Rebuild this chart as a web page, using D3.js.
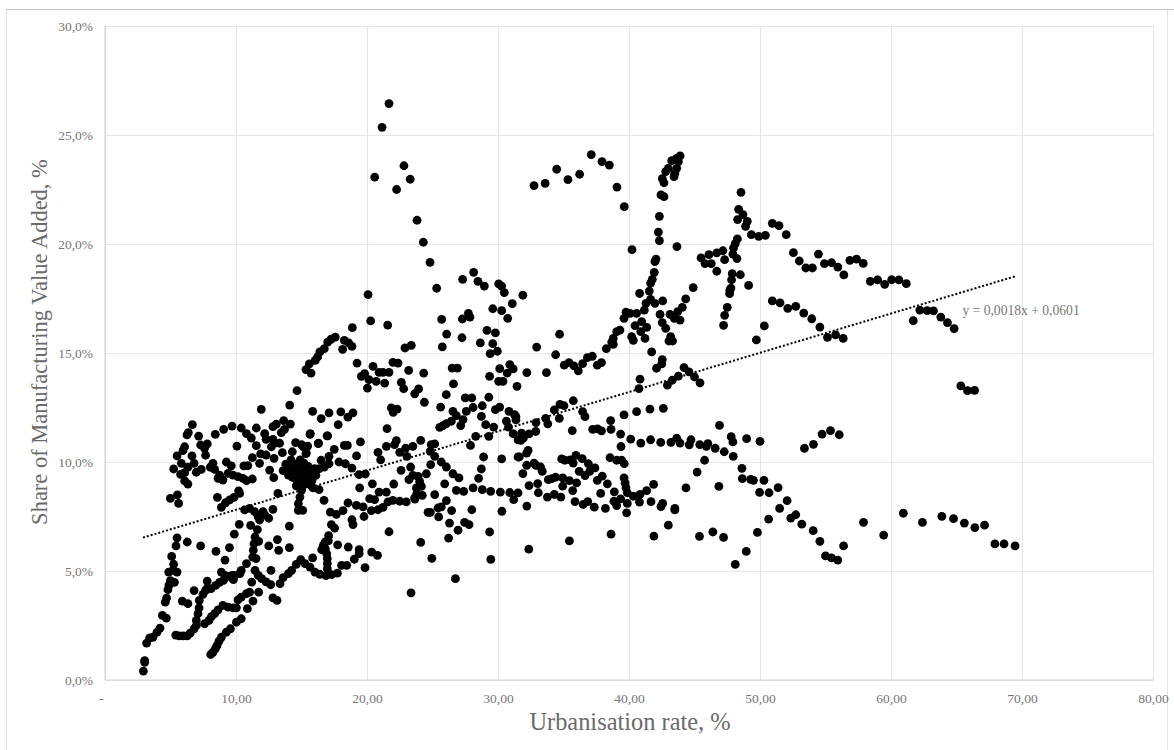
<!DOCTYPE html>
<html>
<head>
<meta charset="utf-8">
<script src="https://cdnjs.cloudflare.com/ajax/libs/d3/7.8.5/d3.min.js"></script>
<style>
  html, body { margin: 0; padding: 0; background: #fff; }
  svg { display: block; }
  text { font-family: "Liberation Serif", serif; }
</style>
</head>
<body>
<svg id="chart" width="1174" height="750"></svg>
<script>
// values: [urbanisation rate %, manufacturing share %]
const veryLowChains = [
  [2.93,0.41],[3.03,0.81],[3.03,0.89],[3.18,1.69],[3.41,1.93],[3.66,1.96],[3.97,2.19],[4.2,2.38],[4.38,2.96],[4.68,2.84],
  [4.6,3.57],[4.7,3.76],[4.8,4.14],[4.88,4.34],[4.99,4.56],[5.3,4.48],[4.86,4.95],[5.5,4.95],[5.2,5.03],[5.24,5.31],
  [5.09,5.67],[5.42,6.15],[5.5,6.52],[6.28,6.33],[7.3,6.15],
  [5.4,2.06],[5.66,2.02],[5.97,2.02],[6.28,2.02],[6.5,2.15],[6.8,2.35],[6.97,2.5],[6.97,2.73],[7.1,3.04],[7.18,3.31],
  [7.2,3.65],[7.48,3.93],[7.68,4.11],[7.8,4.19],[8.1,4.19],[8.45,4.34],[8.75,4.48],[9.05,4.57],[9.4,4.75],[9.7,4.8],
  [9.9,4.8],[9.8,4.6],[10.3,4.88],[10.4,5.03],[10.8,5.34],
  [5.9,3.62],[6.33,3.5],[6.8,4.1],[7.8,4.54],[8.47,5.9],[9.16,5.5],[9.5,6.07],[9.87,6.69],[8.88,4.95],[9.14,4.8],
  [8.07,1.17],[8.24,1.27],[8.42,1.43],[8.55,1.58],[8.7,1.78],[8.88,1.96],[9.26,2.19],[9.57,2.35],[10.03,2.65],[10.4,2.81],
  [7.6,2.58],[7.94,2.73],[8.12,2.91],[8.37,3.04],[8.63,3.22],[9.0,3.42],[9.4,3.34],[9.77,3.31],[10.03,3.31],[10.87,3.27],
  [10.15,3.68],[10.4,3.8],[10.8,3.96],[11.04,4.03],[11.3,3.62],[11.73,4.03],[11.2,4.49],[12.82,3.77],[13.13,3.65]
];
const lowArc = [
  [11.45,5.03],[11.7,4.8],[11.96,4.65],[12.3,4.5],[12.65,4.37],[13.36,4.42],[13.6,4.7],[14.0,4.88],[14.25,5.03],[14.6,5.3],
  [14.94,5.52],[15.27,5.34],[15.65,5.18],[16.03,4.95],[16.4,4.85],[16.87,4.79],[17.3,4.83],[17.74,4.9],[18.06,5.26],[18.45,5.26],
  [19.03,5.54],[19.4,5.8],[19.4,5.98],[19.85,5.15],[12.67,5.03],
  [16.97,5.1],[16.97,5.34],[16.97,5.57],[16.92,5.8],[16.82,6.02],[16.54,5.98],[16.67,6.18],[16.8,6.33],[17.05,6.38],[17.07,6.62],
  [15.85,5.6],[17.76,6.2],[18.57,6.1],[20.36,5.87],[20.8,5.72],
  [11.63,6.9],[11.45,6.56],[11.37,6.25],[11.32,5.95],[11.27,5.64],[11.53,5.57],[11.12,7.09],[11.73,6.36],[10.25,7.14],
  [13.16,6.44],[12.5,6.15],[13.26,5.95],[14.07,6.07],[14.07,7.06],[15,8.7],[14.88,8.39],[14.76,8.09],[14.76,7.78],[15.09,7.78],
  [23.36,4.0],[26.75,4.65],[24.95,5.58],[29.45,5.53],[32.35,6.0]
];
const westCluster = [
  [6.67,11.71],[6.36,11.35],[6.26,11.24],[7.15,11.19],[8.42,11.27],[9.06,11.5],[9.7,11.65],[10.4,11.56],[10.8,11.3],[11.17,11.1],
  [11.55,11.56],[11.93,12.41],[12.19,11.3],[12.3,11.04],[12.82,11.62],[13.08,11.74],[13.64,11.9],[14.15,11.74],[14.66,13.27],[14.1,12.61],
  [13.46,11.35],[13.7,11.5],[12.82,11.04],[13.33,10.86],[12.95,10.86],[12.7,10.7],[14.55,10.89],[6.08,10.7],[5.95,10.52],[5.5,10.28],
  [5.83,9.94],[5.24,9.68],[5.77,9.43],[6.08,9.51],[6.33,9.76],[6.8,9.94],[6.64,10.28],[7.3,10.78],[7.81,10.83],[7.6,10.63],
  [7.68,10.31],[8.24,9.94],[8.04,9.76],[8.37,9.66],[7.35,9.66],[6.97,9.53],[6.08,9.13],[6.33,8.99],[8.75,9.4],[8.63,9.25],
  [9.0,9.17],[9.26,10.0],[9.64,9.82],[9.4,9.48],[9.77,9.4],[10.15,9.33],[10.53,9.25],[10.8,9.14],[11.25,9.22],[10.07,10.73],
  [10.6,9.82],[10.9,9.83],[11.25,10.2],[11.8,9.94],[11.88,10.37],[12.3,10.32],[12.9,10.17],[13.54,10.43],[14.3,10.47],[12.57,9.63],
  [12.88,9.28],[13.2,8.56],[11.55,10.75],[4.99,8.33],[5.53,8.49],[5.62,8.1],[8.58,8.38],[8.88,7.92],[9.2,8.13],[9.52,8.26],
  [9.85,8.38],[10.2,8.68],[10.28,8.56],[10.66,7.8],[11.04,7.87],[11.42,7.72],[11.68,7.49],[12.06,7.72],[12.19,7.57],[12.5,7.42],
  [11.8,7.34],[12.82,7.83]
];
const denseCore = [
  [13.6,9.6],[13.8,9.9],[14,9.4],[14.1,9.7],[14.2,10.1],[14.3,9.3],[14.4,9.6],[14.5,9.9],[14.6,9.2],[14.7,9.5],
  [14.8,9.8],[14.9,10.1],[15,9.1],[15,9.4],[15.1,9.7],[15.2,9.95],[15.3,9.2],[15.4,9.55],[15.5,9.8],[15.6,9.35],
  [15.7,9.6],[15.8,9.15],[15.9,9.45],[16,9.7],[14.6,8.9],[15.05,8.95],[15.35,9],[14.9,9.3],[16.1,9.39],[16.36,9.7],
  [16.74,9.77],[17.1,9.92],[16.3,10.87],[15,10.8],[15.37,10.41],[15.67,11.3],[16.95,11.2]
];
const risingArc = [
  [17.58,15.73],[17.25,15.63],[17.0,15.5],[16.74,15.2],[16.4,15.05],[16.23,14.82],[16.05,14.66],[15.6,14.5],[15.34,14.24],[15.73,14.08],
  [18.27,15.58],[18.6,15.46],[18.85,15.3],[18.14,15.17],[18.88,16.16],[20.28,16.47],[21.58,16.28],[22.9,15.23],[23.38,15.35],
  [15.85,12.32],[16.5,11.99],[17.1,12.25],[18.0,12.3],[18.93,12.25],[18.54,12.06],[17.8,11.71],[15.65,11.27],[17.0,11.2],[16.28,10.84],
  [15.14,10.69],[15.47,10.73],[15.34,10.38],[17.5,10.58],[18.27,10.76],[18.5,10.76],[19.5,10.92],[17.1,10.26],[16.5,10.08],[19.2,10.28],
  [17.86,10.0],[18.85,9.72],[18.35,9.92],[19.39,9.42],[19.87,9.45]
];
const middleUpper = [
  [19.24,14.54],[19.57,13.93],[19.82,14.05],[20.03,13.39],[20.15,13.78],[20.46,14.39],[20.7,13.7],[20.92,14.11],[21.35,13.62],[21.22,14.11],
  [21.68,14.11],[21.98,14.57],[22.37,14.54],[23.18,14.2],[22.62,13.65],[22.8,13.36],[23.64,13.13],[23.94,13.35],[24.33,14.08],[24.38,12.74],
  [25.75,15.28],[26.08,15.87],[27.25,15.7],[28.65,15.46],[29.16,16.04],[29.8,15.92],[29.6,15.43],[29.4,14.97],[29.95,15.08],[30.13,14.28],
  [30.7,14.08],[30.9,14.47],[31.16,14.27],[29.36,13.93],[30.05,13.7],[30.38,13.7],[31.45,13.47],[26.5,14.31],[26.9,14.31],[26.6,13.58],
  [26.05,13.09],[27.5,12.94],[28.0,12.94],[29.3,12.97],[25.62,12.52],[28.8,12.58],[28.1,12.5],[27.58,12.32],[28.73,12.09],[30.13,12.52],
  [29.8,12.4],[30.84,12.32],[31.27,12.17],[21.86,12.48],[22.3,12.43],[22.0,12.28],[21.53,11.53],[26.56,12.32],[26.82,12.13],[27.33,11.94],
  [27.15,11.67],[26.44,11.87],[26.06,11.76],[25.55,11.59],[25.8,11.67],[29.06,11.71],[29.67,11.6],[30.64,11.87],[30.8,11.6],[31.16,11.3],
  [31.53,11.02],[29.3,11.18],[28.3,11.18],[27.9,10.76],[24.1,10.99],[25.17,10.83],[24.9,10.8],[24.83,10.49],[23.5,10.72],[22.95,10.64],
  [22.5,10.44],[23.05,10.26],[22.24,10.98],[22.1,10.8],[21.48,10.72],[20.84,10.44],[21.04,10.1]
];
const middleLower = [
  [25.17,10.26],[25.67,10.0],[26.06,9.77],[26.56,9.46],[27.02,9.27],[24.86,9.88],[24.53,9.46],[23.33,9.77],[22.6,9.62],[23.5,9.39],
  [23.2,9.19],[23.9,9.34],[24.02,9.11],[24.15,8.88],[23.77,8.81],[25.93,9.0],[24.22,8.47],[23.64,8.35],[28.9,10.23],[30.28,10.14],
  [31.53,10.23],[28.73,9.68],[28.52,9.25],[20.41,9.0],[22.04,8.99],[19.44,8.81],[20.92,8.62],[21.48,8.62],[25.17,8.5],[26.82,8.7],
  [27.38,8.65],[28.1,8.81],[28.8,8.73],[29.44,8.65],[30.18,8.62],[30.9,8.6],[31.53,8.58],[31.2,8.27],[15.88,8.81],[16.34,8.73],
  [16.72,8.24],[20.2,8.32],[20.58,8.27],[18.55,8.12],[19.19,8.01],[19.7,7.94],[20.33,7.77],[20.84,7.81],[21.22,7.92],[21.6,8.17],
  [21.98,8.24],[22.5,8.2],[23,8.17],[19.77,7.5],[18.17,7.77],[17.2,7.7],[17.66,7.6],[18.85,7.35],[18.93,7.13],[17.28,7.13],
  [17.53,6.97],[21.68,6.8],[24.1,6.31],[24.66,7.69],[25.47,7.48],[25.67,7.94],[26.06,8.23],[25.42,7.89],[26.46,7.77],[26.3,7.2],
  [26.95,6.87],[27.45,7.23],[27.79,7.13],[26.23,6.51],[28.0,7.81],[29.36,6.79],[30.3,7.74],[24.83,7.69],[23.66,8.3],[23.8,8.55]
];
const centreBands = [
  [31.9,9.47],[34.68,12.0],[32.95,15.27],[34.4,14.92],[35.06,14.44],[35.42,14.56],[35.8,14.41],[36.13,14.18],[36.46,14.51],[36.82,14.79],
  [37.2,14.85],[37.58,14.44],[37.9,14.56],[38.27,15.2],[38.68,15.5],[38.8,15.4],[40.33,15.58],[41.73,15.05],[42.54,14.7],[42.5,14.5],
  [42.1,14.3],[43.05,15.55],[43.33,15.55],[44.2,14.33],[44.58,14.13],[45,13.9],[45.42,13.63],[43.77,13.94],[43.3,13.75],[42.93,13.53],
  [40.84,13.8],[40.76,13.37],[32.2,14.1],[33.7,14.1],[31.37,12.08],[31.37,11.93],[31.8,11.32],[31.93,11.09],[31.74,10.99],[32.37,11.29],
  [32.88,11.4],[32.9,11.81],[33.64,12.0],[33.8,11.75],[34.3,12.39],[34.73,12.64],[35.04,12.58],[35.75,12.81],[36.46,12.31],[36.64,12.08],
  [35.67,11.44],[37.23,11.5],[37.6,11.52],[37.9,11.43],[38.6,11.9],[38.63,11.5],[39.62,12.16],[40.58,12.31],[41.6,12.43],[42.62,12.46],
  [39.36,11.28],[40.13,11.05],[40.9,10.87],[41.65,11.02],[42.42,10.9],[43.2,10.9],[43.64,11.09],[43.9,10.87],[44.6,10.79],[44.73,11.02],
  [39.39,10.71],[45.2,9.54],[44.35,8.81],[41.88,8.97],[31.63,10.23],[32.19,10.41],[32.3,10.53],[32.19,9.85],[32.75,9.95],[32.9,9.85],
  [33.25,9.77],[33.38,9.57],[34.86,10.14],[35.1,10.08],[35.5,10.1],[35.95,10.3],[35.74,9.95],[36.43,10.15],[36.9,9.92],[37.4,9.73],
  [36.2,9.57],[36.64,9.38],[37.0,9.57],[37.96,9.35],[37.58,9.16],[38.35,9.0],[38.55,10.2],[39.06,10.08],[39.44,10.08],[39.64,9.92],
  [39.62,9.27],[39.7,9.04],[39.77,8.81],[39.87,8.59],[38.88,8.63],[39.36,8.31],[38.85,8.2],[39.06,8.0],[39.87,8.1],[39.82,7.67],
  [40.8,8.16],[40.33,8.43],[40.84,8.51],[41.35,8.69],[41.68,8.18],[42.57,8.1],[42.44,7.95],[43.5,7.87],[43.5,7.8],[43,7.1],
  [38.63,6.69],[41.9,6.6],[35.45,6.38],[33.84,9.19],[34.1,9.24],[34.4,9.3],[34.94,9.27],[35.45,9.15],[36,9.04],[34.94,8.89],
  [35.7,8.69],[32.37,8.92],[33.03,9.01],[33.08,8.59],[33.77,8.39],[34.3,8.51],[34.8,8.39],[35.88,8.18],[36.5,8.05],[36.85,8.18],
  [37.35,7.93],[38.2,7.87],[37.84,8.56],[32.2,7.98]
];
const upperRidge = [
  [32.75,22.68],[33.6,22.78],[34.48,23.43],[35.34,22.95],[36.23,23.2],[37.12,24.1],[37.94,23.78],[38.5,23.62],[39.08,22.61],[39.64,21.71],
  [40.23,19.74],[34.7,15.86],[43.9,24.04],[43.64,23.93],[43.26,23.82],[43.77,23.78],[43.64,23.47],[43.0,23.47],[42.8,23.32],[43.5,23.24],
  [43.44,23.09],[42.54,23.0],[42.67,22.81],[42.44,22.25],[42.67,22.17],[42.32,21.27],[42.24,20.54],[42.32,20.15],[43.66,19.88],[42.06,19.31],
  [41.98,19.19],[41.93,18.7],[41.78,18.38],[41.65,18.2],[41.55,17.84],[40.81,17.73],[41.65,17.46],[41.98,17.28],[42.57,17.39],[41.3,17.28],
  [41.17,16.97],[40.58,16.82],[39.77,16.87],[40.08,16.82],[39.62,16.59],[42.37,16.77],[43.13,16.77],[43.72,16.9],[44.07,17.09],[44.33,17.48],
  [44.9,18.0],[43.46,16.59],[43.9,16.51],[42.54,16.39],[42.8,16.13],[40.46,16.25],[40.97,16.44],[41.35,16.18],[40.9,15.98],[41.22,15.67],
  [40.2,15.75],[39.31,16.05],[39.06,15.98],[38.8,15.67],[43.18,15.75]
];
const earlyPeaks = [
  [21.68,26.44],[21.15,25.35],[22.82,23.59],[20.59,23.07],[23.3,22.97],[22.26,22.5],[23.82,21.09],[24.3,20.08],[24.81,19.16],[25.32,17.97],
  [28.14,18.7],[27.3,18.38],[28.47,18.29],[28.96,18.07],[30.05,18.17],[30.28,18.07],[30.48,17.77],[31.9,17.65],[31.09,17.26],[20.08,17.68],
  [25.7,16.54],[27.74,16.82],[27.86,16.65],[27.28,16.56],[29.6,17.03],[30.28,16.94],[30.74,16.59]
];
const lateTail = [
  [48.55,22.37],[48.37,21.59],[48.7,21.35],[48.29,21.12],[49.03,21.04],[48.9,20.81],[49.34,20.43],[49.9,20.35],[50.41,20.4],[50.94,20.95],
  [51.45,20.84],[52.0,20.43],[48.27,20.23],[48.11,20.02],[47.98,19.82],[47.93,19.54],[48.24,19.33],[47.17,19.69],[46.7,19.59],[46.1,19.51],
  [45.5,19.36],[45.8,19.1],[46.28,19.1],[46.7,18.75],[47.3,19.28],[47.88,18.64],[48.5,18.59],[47.83,18.36],[47.78,17.98],[47.7,17.87],
  [47.68,17.72],[49.13,18.1],[47.5,17.09],[47.3,16.73],[47.22,16.27],[52.55,19.6],[53.0,19.22],[53.5,18.9],[54.0,18.9],[54.46,19.54],
  [54.92,19.1],[55.46,19.14],[55.94,18.94],[56.4,18.58],[56.86,19.25],[57.37,19.31],[57.88,19.11],[58.42,18.29],[58.98,18.35],[59.52,18.15],
  [60.05,18.36],[60.6,18.35],[61.17,18.18],[50.94,17.39],[51.53,17.3],[52.12,17.05],[52.73,17.14],[53.34,16.83],[53.95,16.57],[54.57,16.19],
  [55.15,15.72],[55.77,15.83],[56.35,15.67],[50.33,16.24],[49.72,15.6],[61.7,16.48],[62.2,16.97],[62.76,16.94],[63.24,16.93],[63.8,16.65],
  [64.31,16.39],[64.82,16.12],[65.33,13.49],[65.84,13.27],[66.38,13.29],[46.91,11.68],[45.4,10.8],[46.02,10.84],[45.9,10.72],[46.58,10.63],
  [47.27,10.47],[47.8,11.16],[47.93,10.92],[47.96,10.26],[48.98,11.07],[50,10.95],[45.77,10.08],[53.39,10.63],[54.08,10.81],[54.74,11.28],
  [55.38,11.44],[56.05,11.25],[48.62,9.71],[48.65,9.24],[49.29,9.2],[49.5,9.16],[50.3,9.16],[49.97,8.61],[50.69,8.59],[51.38,8.82],
  [46.86,8.88],[52.07,8.23],[51.5,7.87],[50.66,7.38],[52.35,7.43],[52.73,7.58],[53.19,7.15],[54.06,6.85],[54.57,6.36],[55.0,5.69],
  [55.46,5.6],[55.94,5.5],[56.38,6.15],[49.8,6.77],[48.95,5.9],[48.11,5.3],[47.22,6.54],[46.4,6.79],[45.38,6.59],[57.9,7.23],
  [59.44,6.65],[60.94,7.65],[62.4,7.23],[63.88,7.51],[64.77,7.4],[65.6,7.2],[66.4,6.99],[67.14,7.1],[67.93,6.24],[68.63,6.24],[69.47,6.15]
];

const xTicks = [0, 10, 20, 30, 40, 50, 60, 70, 80];
const yTicks = [0, 5, 10, 15, 20, 25, 30];
const trendSlope = 0.18;      // in % per urbanisation point
const trendIntercept = 6.01;
const trendRange = [2.9, 69.5];

const allPoints = [].concat(veryLowChains, lowArc, westCluster, denseCore, risingArc, middleUpper,
  middleLower, centreBands, upperRidge, earlyPeaks, lateTail);

const svg = d3.select("#chart");
const margin = { top: 26, left: 105, right: 21, bottom: 70 };
const width = 1174 - margin.left - margin.right;
const height = 750 - margin.top - margin.bottom;

// outer chart frame
svg.append("rect")
  .attr("x", 6.5).attr("y", 9.5)
  .attr("width", 1161).attr("height", 760)
  .attr("fill", "#fff")
  .attr("stroke", "#e3e3e3");
svg.append("line")
  .attr("x1", 6).attr("x2", 1174)
  .attr("y1", 9.5).attr("y2", 9.5)
  .attr("stroke", "#c4c4c4");

const g = svg.append("g").attr("transform", `translate(${margin.left},${margin.top})`);

const x = d3.scaleLinear().domain([0, 80]).range([0, width]);
const y = d3.scaleLinear().domain([0, 30]).range([height, 0]);

const fmtX = d => d === 0 ? "-" : d3.format(".2f")(d).replace(".", ",");
const fmtY = d => d3.format(".1f")(d).replace(".", ",") + "%";

const xAxis = g.append("g")
  .attr("transform", `translate(0,${height})`)
  .call(d3.axisBottom(x).tickValues(xTicks).tickSize(-height).tickPadding(13).tickFormat(fmtX));
const yAxis = g.append("g")
  .call(d3.axisLeft(y).tickValues(yTicks).tickSize(-width).tickPadding(12).tickFormat(fmtY));

[xAxis, yAxis].forEach(a => {
  a.select(".domain").remove();
  a.selectAll("line").attr("stroke", "#e6e6e6").attr("stroke-width", 1.2);
  a.selectAll("text").attr("fill", "#767676").style("font-size", "13.5px")
    .style("font-family", "'Liberation Serif', serif");
});
// the zero label sits a little to the left, accounting style
xAxis.selectAll("text").filter(d => d === 0).attr("dx", -4);

// axis base lines are a bit darker than the grid
g.append("line").attr("x1", 0).attr("x2", 0).attr("y1", 0).attr("y2", height)
  .attr("stroke", "#d4d4d4").attr("stroke-width", 1.2);
g.append("line").attr("x1", 0).attr("x2", width).attr("y1", height).attr("y2", height)
  .attr("stroke", "#d4d4d4").attr("stroke-width", 1.2);

g.selectAll("circle.pt")
  .data(allPoints)
  .join("circle")
  .attr("class", "pt")
  .attr("cx", d => x(d[0]))
  .attr("cy", d => y(d[1]))
  .attr("r", 4.4)
  .attr("fill", "#000");

const trendLine = d3.line()
  .x(d => x(d))
  .y(d => y(trendSlope * d + trendIntercept));

g.append("path")
  .attr("d", trendLine(trendRange))
  .attr("fill", "none")
  .attr("stroke", "#000")
  .attr("stroke-width", 2)
  .attr("stroke-dasharray", "2,2");

g.append("text")
  .attr("x", x(65.45))
  .attr("y", y(16.92) + 4)
  .attr("fill", "#767676")
  .style("font-size", "13.6px")
  .text("y = 0,0018x + 0,0601");

svg.append("text")
  .attr("x", margin.left + width / 2 + 1)
  .attr("y", 730)
  .attr("text-anchor", "middle")
  .attr("fill", "#6a6a6a")
  .style("font-size", "24.4px")
  .text("Urbanisation rate, %");

svg.append("text")
  .attr("transform", `translate(47,${margin.top + height / 2 - 11}) rotate(-90)`)
  .attr("text-anchor", "middle")
  .attr("fill", "#6a6a6a")
  .style("font-size", "22.5px")
  .text("Share of Manufacturing Value Added, %");
</script>
</body>
</html>
